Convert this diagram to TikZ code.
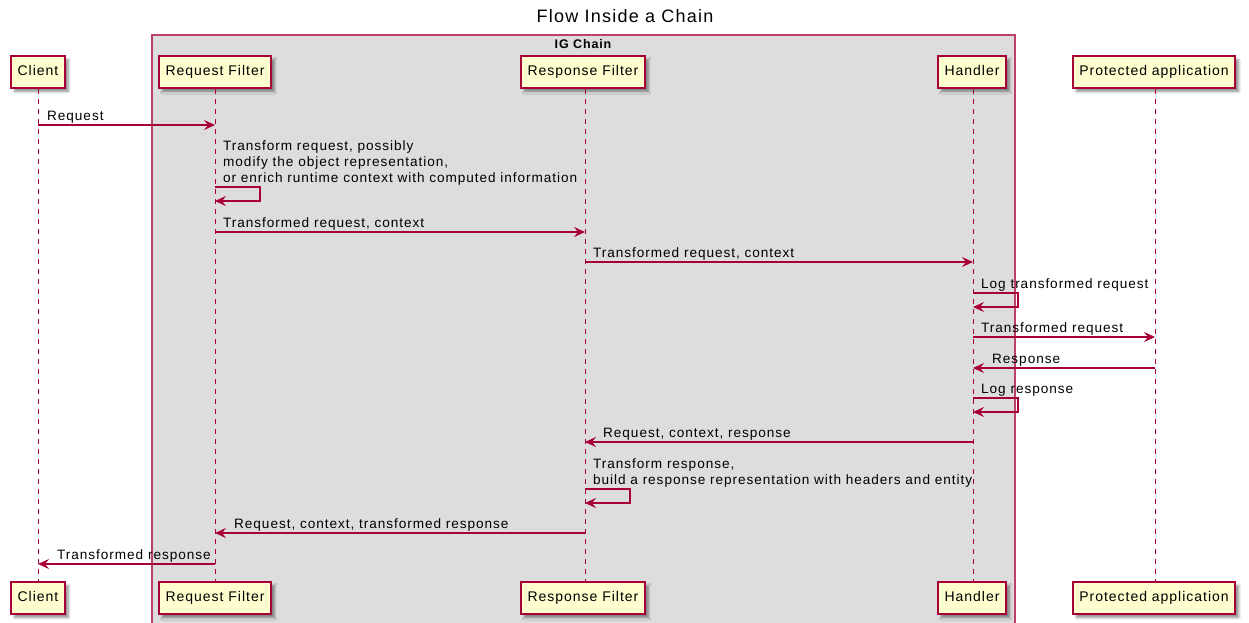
\documentclass[tikz,border=0pt]{standalone}
\usepackage{fontspec}
\setmainfont{Liberation Sans}
\newfontfamily\umlfont[LetterSpace=7]{Liberation Sans}
\usetikzlibrary{arrows.meta,shadows.blur}
\definecolor{pline}{HTML}{A80036}
\definecolor{pfill}{HTML}{FEFECE}
\definecolor{grpfill}{HTML}{DDDDDD}
\begin{document}
\begin{tikzpicture}[x=1pt,y=-1pt,
  actor/.style={draw=pline, fill=pfill, line width=2pt, minimum height=32pt,
    text height=10pt, text depth=3pt,
    inner xsep=6.5pt, font=\umlfont\fontsize{14}{16}\selectfont,
    blur shadow={shadow xshift=3.5pt,shadow yshift=-3.5pt,shadow blur radius=2.5pt,
      shadow blur steps=6,shadow opacity=45}},
  life/.style={draw=pline, dash pattern=on 5pt off 5pt, line width=1pt},
  msg/.style={draw=pline, line width=1.2pt, -{Stealth[length=11pt,width=10pt,inset=4pt]}},
  lbl/.style={font=\umlfont\fontsize{13.6}{16}\selectfont, anchor=base west, inner sep=0pt, align=left},
]
\path[use as bounding box] (0,0) rectangle (1249,622);

% title
\node[font=\umlfont\fontsize{18}{21}\selectfont] (title) at (625,16) {Flow Inside a Chain};

% group box
\draw[pline!75, fill=grpfill, line width=1.2pt] (152,35) rectangle (1015,630);
\node[font=\umlfont\bfseries\fontsize{12.5}{15}\selectfont] (grp) at (583,44) {IG Chain};

% participants, top and bottom
\node[actor] (c)  at (38,72)   {Client};
\node[actor] (rf) at (215,72)  {Request Filter};
\node[actor] (sf) at (583,72)  {Response Filter};
\node[actor] (h)  at (972,72)  {Handler};
\node[actor] (pa) at (1154,72) {Protected application};

\node[actor] (cb)  at (38,598)   {Client};
\node[actor] (rfb) at (215,598)  {Request Filter};
\node[actor] (sfb) at (583,598)  {Response Filter};
\node[actor] (hb)  at (972,598)  {Handler};
\node[actor] (pab) at (1154,598) {Protected application};

% lifelines
\coordinate (lc) at (38,0);
\coordinate (lrf) at (215,0);
\coordinate (lsf) at (585,0);
\coordinate (lh) at (973,0);
\coordinate (lpa) at (1155,0);
\draw[life] (lc |- c.south) -- (lc |- cb.north);
\draw[life] (lrf |- rf.south) -- (lrf |- rfb.north);
\draw[life] (lsf |- sf.south) -- (lsf |- sfb.north);
\draw[life] (lh |- h.south) -- (lh |- hb.north);
\draw[life] (lpa |- pa.south) -- (lpa |- pab.north);

% message rows
\coordinate (m1) at (0,125);
\coordinate (s1a) at (0,187); \coordinate (s1b) at (0,201);
\coordinate (m3) at (0,232);
\coordinate (m4) at (0,262);
\coordinate (s2a) at (0,293); \coordinate (s2b) at (0,307);
\coordinate (m6) at (0,337);
\coordinate (m7) at (0,368);
\coordinate (s3a) at (0,398); \coordinate (s3b) at (0,412);
\coordinate (m9) at (0,442);
\coordinate (s4a) at (0,489); \coordinate (s4b) at (0,503);
\coordinate (m11) at (0,533);
\coordinate (m12) at (0,564);

% 1
\draw[msg] (lc |- m1) -- (lrf |- m1);
\node[lbl] (t1) at (47,120) {Request};
% 2
\draw[msg] (lrf |- s1a) -- ++(45,0) -- ++(0,14) -- (lrf |- s1b);
\node[lbl] (t2a) at (223,150) {Transform request, possibly};
\node[lbl] (t2b) at (223,166) {modify the object representation,};
\node[lbl] (t2c) at (223,182) {or enrich runtime context with computed information};
% 3
\draw[msg] (lrf |- m3) -- (lsf |- m3);
\node[lbl] (t3) at (223,227) {Transformed request, context};
% 4
\draw[msg] (lsf |- m4) -- (lh |- m4);
\node[lbl] (t4) at (593,257) {Transformed request, context};
% 5
\draw[msg] (lh |- s2a) -- ++(45,0) -- ++(0,14) -- (lh |- s2b);
\node[lbl] (t5) at (981,288) {Log transformed request};
% 6
\draw[msg] (lh |- m6) -- (lpa |- m6);
\node[lbl] (t6) at (981,332) {Transformed request};
% 7
\draw[msg] (lpa |- m7) -- (lh |- m7);
\node[lbl] (t7) at (992,363) {Response};
% 8
\draw[msg] (lh |- s3a) -- ++(45,0) -- ++(0,14) -- (lh |- s3b);
\node[lbl] (t8) at (981,393) {Log response};
% 9
\draw[msg] (lh |- m9) -- (lsf |- m9);
\node[lbl] (t9) at (603,437) {Request, context, response};
% 10
\draw[msg] (lsf |- s4a) -- ++(45,0) -- ++(0,14) -- (lsf |- s4b);
\node[lbl] (t10a) at (593,468) {Transform response,};
\node[lbl] (t10b) at (593,484) {build a response representation with headers and entity};
% 11
\draw[msg] (lsf |- m11) -- (lrf |- m11);
\node[lbl] (t11) at (234,528) {Request, context, transformed response};
% 12
\draw[msg] (lrf |- m12) -- (lc |- m12);
\node[lbl] (t12) at (57,559) {Transformed response};
\end{tikzpicture}
\end{document}
